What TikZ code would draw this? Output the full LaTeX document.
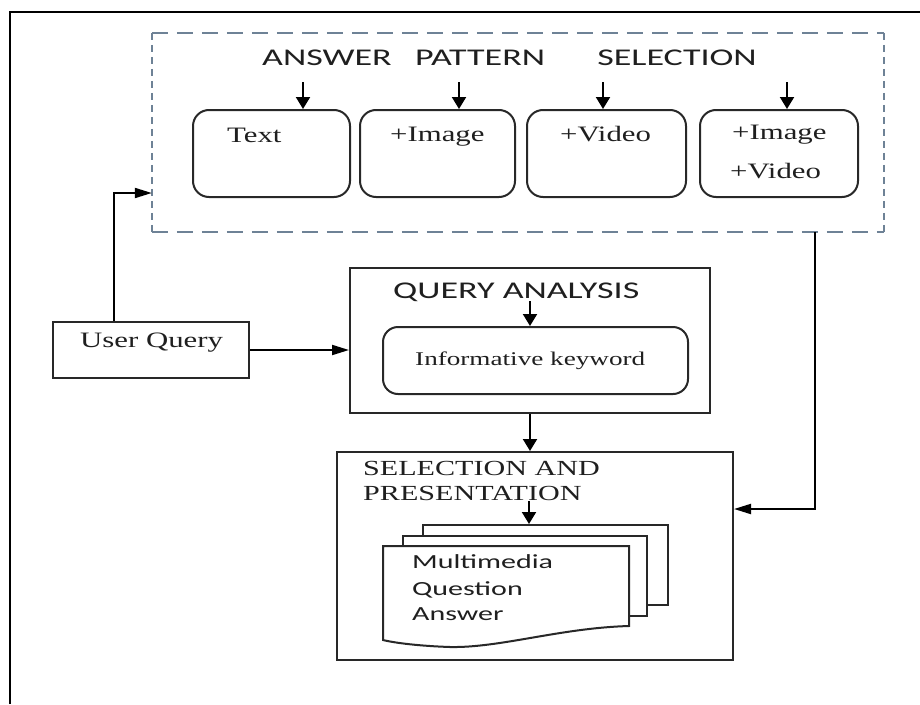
\documentclass[tikz,border=0pt]{standalone}
\usepackage{fontspec}
\setmainfont{Liberation Serif}
\newfontfamily\sfw[FakeStretch=1.5]{Carlito}
\newfontfamily\rmw[FakeStretch=1.4]{Liberation Serif}
\usetikzlibrary{arrows.meta}
\definecolor{dashc}{RGB}{110,130,150}
\definecolor{linec}{RGB}{40,40,40}
\tikzset{
  box/.style={draw=linec, line width=2pt, inner sep=0pt},
  rbox/.style={draw=linec, line width=2pt, rounded corners=16pt, inner sep=0pt},
  lbl/.style={inner sep=0pt, anchor=base west, text=black!88},
  hdr/.style={lbl, font=\sfw\fontsize{24}{28}\selectfont},
  docf/.style={lbl, font=\sfw\fontsize{20}{24}\selectfont},
  ser/.style={lbl, font=\rmw\fontsize{22}{26}\selectfont},
  sers/.style={lbl, font=\rmw\fontsize{19.4}{23}\selectfont},
  serl/.style={lbl, font=\rmw\fontsize{21.5}{25}\selectfont},
  arrv/.style={draw=black, line width=2pt, -{Triangle[length=12pt,width=14pt]}},
  arrh/.style={draw=black, line width=2pt, -{Triangle[length=17pt,width=10pt]}},
  page/.style={draw=linec, line width=2pt, fill=white},
  dashh/.style={draw=dashc, line width=1.8pt, dash pattern=on 16pt off 9pt},
  dashv/.style={draw=dashc, line width=1.8pt, dash pattern=on 7pt off 5pt},
}
\begin{document}
\begin{tikzpicture}[x=1pt,y=-1pt]
\useasboundingbox (0,0) rectangle (920,704);
\fill[white] (0,0) rectangle (920,704);
% outer frame (cut at right and bottom)
\draw[line width=2.5pt, black] (10,704) -- (10,12) -- (920,12);

% answer pattern selection (dashed)
\node[inner sep=0pt, minimum width=732pt, minimum height=199pt] (aps) at (518,132.5) {};
\draw[dashh] (aps.north west) -- (aps.north east) (aps.south west) -- (aps.south east);
\draw[dashv] (aps.north west) -- (aps.south west) (aps.north east) -- (aps.south east);

\node[hdr] (tA) at (262,65.5) {ANSWER};
\node[hdr] (tP) at (415,65.5) {PATTERN};
\node[hdr, anchor=base east] (tS) at (757,65.5) {SELECTION};

\node[rbox, minimum width=157pt, minimum height=87pt] (b1) at (271.5,153.5) {};
\node[rbox, minimum width=155pt, minimum height=87pt] (b2) at (437.5,153.5) {};
\node[rbox, minimum width=159pt, minimum height=87pt] (b3) at (606.5,153.5) {};
\node[rbox, minimum width=158pt, minimum height=87pt] (b4) at (779,153.5) {};

\node[ser] (t1) at (227,142) {Text};
\node[ser] (t2) at (390,141) {+Image};
\node[ser] (t3) at (560,141) {+Video};
\node[ser] (t4a) at (732,139) {+Image};
\node[ser] (t4b) at (730,178) {+Video};

\coordinate (a1) at (303,82);
\coordinate (a2) at (459,82);
\coordinate (a3) at (603,82);
\coordinate (a4) at (787,82);
\draw[arrv] (a1) -- (a1 |- b1.north);
\draw[arrv] (a2) -- (a2 |- b2.north);
\draw[arrv] (a3) -- (a3 |- b3.north);
\draw[arrv] (a4) -- (a4 |- b4.north);

% user query
\node[box, minimum width=196pt, minimum height=56pt] (uq) at (151,350) {};
\node[ser] (tuq) at (80,347) {User Query};

% query analysis
\node[box, minimum width=360pt, minimum height=145pt] (qa) at (530,340.5) {};
\node[hdr] (tqa) at (393,298) {QUERY ANALYSIS};
\node[rbox, rounded corners=15pt, minimum width=305pt, minimum height=67pt] (ik) at (535.5,360.5) {};
\node[sers] (tik) at (415,365) {Informative keyword};
\coordinate (qa1) at (530,301);
\draw[arrv] (qa1) -- (qa1 |- ik.north);

% selection and presentation
\node[box, minimum width=396pt, minimum height=208pt] (sel) at (535,556) {};
\node[serl] (ts1) at (363,475) {SELECTION AND};
\node[serl] (ts2) at (363,500) {PRESENTATION};

\node[page, minimum width=245pt, minimum height=80pt, inner sep=0pt] (pg3) at (545.5,565) {};
\node[page, minimum width=244pt, minimum height=80pt, inner sep=0pt] (pg2) at (525,576) {};
\draw[page] (383,546) -- (629,546) -- (629,626)
  .. controls (560,628) and (500,648) .. (450,647)
  .. controls (420,646) and (395,643) .. (383,640) -- cycle;
\node[docf] (d1) at (412,568) {Multimedia};
\node[docf] (d2) at (412,595) {Question};
\node[docf] (d3) at (412,620) {Answer};
\coordinate (s1) at (529,501);
\draw[arrv] (s1) -- (s1 |- pg3.north);

% connectors
\draw[arrh] ([xshift=-37pt]uq.north) |- ([yshift=-60.5pt]aps.west);
\draw[arrh] (uq.east) -- (uq.east -| qa.west);
\draw[arrv] (qa.south) -- (qa.south |- sel.north);
\draw[arrh] ([xshift=297pt]aps.south) |- ([yshift=47pt]sel.east);
\end{tikzpicture}
\end{document}
